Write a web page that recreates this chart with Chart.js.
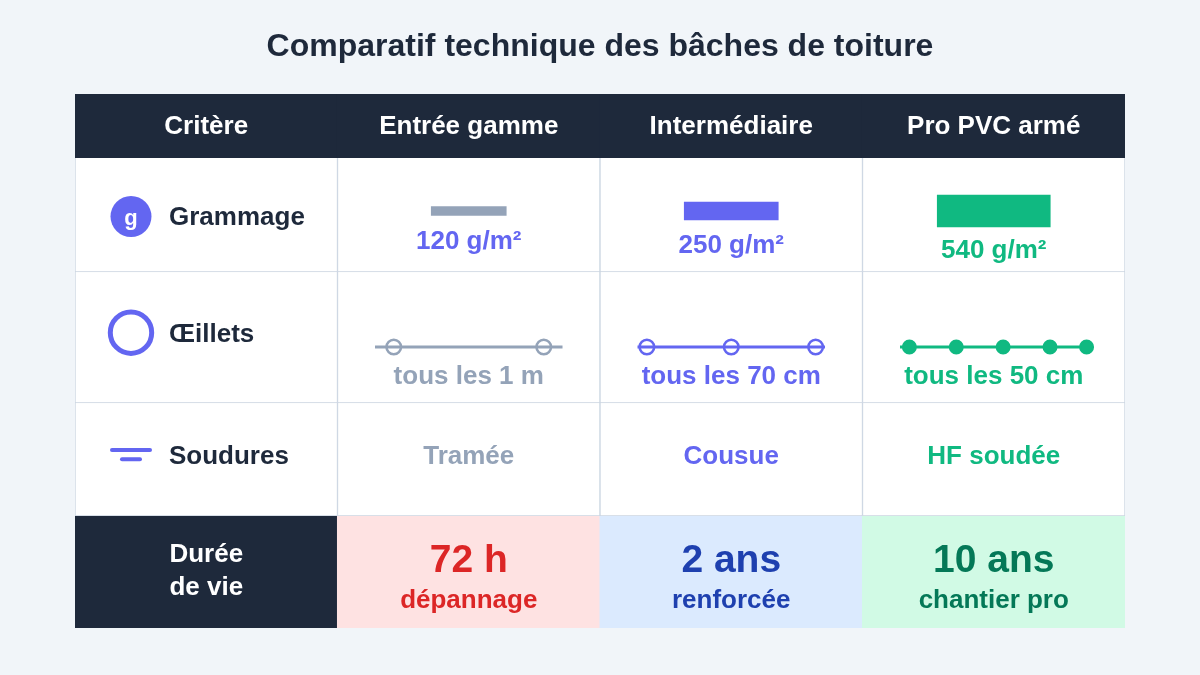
<!DOCTYPE html>
<html lang="fr">
<head>
<meta charset="utf-8">
<title>Comparatif technique des bâches de toiture</title>
<script src="https://cdn.jsdelivr.net/npm/chart.js@4"></script>
<style>
  html, body { margin: 0; padding: 0; background: #f1f5f9; }
  canvas { display: block; }
</style>
</head>
<body>
<canvas id="chart" width="1200" height="675"></canvas>
<script>
const title = 'Comparatif technique des bâches de toiture'
const columns = ['Critère', 'Entrée gamme', 'Intermédiaire', 'Pro PVC armé']
const criteria = ['Grammage', 'Œillets', 'Soudures']
const lifeLabel = ['Durée', 'de vie']

const grammage = [120, 250, 540]
const eyeletLabels = ['tous les 1 m', 'tous les 70 cm', 'tous les 50 cm']
// position des oeillets le long de la bande (0 = debut, 1 = fin)
const eyeletPositions = [
  [0.1, 0.9],
  [0.05, 0.5, 0.95],
  [0.05, 0.3, 0.55, 0.8, 0.995],
]
const weldTypes = ['Tramée', 'Cousue', 'HF soudée']
const lifeValues = ['72 h', '2 ans', '10 ans']
const lifeNotes = ['dépannage', 'renforcée', 'chantier pro']

// ----- Mise en page et couleurs -----
const navy = '#1e293b'
const line = '#cbd5e1'
const indigo = '#6366f1'
const tierColors = ['#94a3b8', indigo, '#10b981']
const gramLabelColors = [indigo, indigo, '#10b981']
const lifeFill = ['#fee2e2', '#dbeafe', '#d1fae5']
const lifeText = ['#dc2626', '#1e40af', '#047857']

const tableHeight = 534
const rowEdges = [0, 64, 178, 309, 422, 534]
const gramCenter = 117
const gramBarHeight = [9, 18, 32]
const gramBarWidth = [75, 94, 113]
const gramLabelBase = [154.5, 158.5, 163.5]
const stripY = 253
const stripInset = 0.1429
const stripSpan = 0.7143
const font = size => `bold ${size}px "Liberation Sans", Arial, sans-serif`

// ----- Cellules du tableau (barres flottantes) -----
const cellFill = row => {
  if (row === 0) return columns.map(() => navy)
  if (row === 4) return [navy, ...lifeFill]
  return columns.map(() => '#ffffff')
}
const cellBorder = row => {
  if (row === 0 || row === 4) return 0
  return row === 1 ? { top: 2, left: 1, right: 1, bottom: 1 } : 1
}
const cellDatasets = rowEdges.slice(0, -1).map((top, row) => ({
  type: 'bar',
  data: columns.map(() => [top, rowEdges[row + 1]]),
  backgroundColor: cellFill(row),
  borderColor: row === 0 || row === 4 ? 'rgba(0,0,0,0)' : line,
  borderWidth: cellBorder(row),
  barPercentage: row === 0 || row === 4 ? 1.004 : 1,
  categoryPercentage: 1,
  grouped: false,
  order: row === 0 || row === 4 ? 9 : 10,
}))

// ----- Barres de grammage -----
const gramDatasets = grammage.map((value, i) => ({
  type: 'bar',
  label: value + ' g/m²',
  data: columns.map((c, col) =>
    col === i + 1
      ? [gramCenter - gramBarHeight[i] / 2, gramCenter + gramBarHeight[i] / 2]
      : null
  ),
  backgroundColor: tierColors[i],
  barThickness: gramBarWidth[i],
  grouped: false,
  order: 5,
}))

// ----- Bandes avec oeillets -----
const stripX = (col, f) => col + stripInset + f * stripSpan
const stripDatasets = eyeletPositions.flatMap((positions, i) => [
  {
    type: 'line',
    xAxisID: 'xs',
    data: [0, 1].map(f => ({ x: stripX(i + 1, f), y: stripY })),
    borderColor: tierColors[i],
    borderWidth: 3,
    pointRadius: 0,
    order: 4,
  },
  {
    type: 'line',
    xAxisID: 'xs',
    showLine: false,
    data: positions.map(f => ({ x: stripX(i + 1, f), y: stripY })),
    pointRadius: i === 2 ? 6.5 : 7.3,
    pointBorderWidth: i === 2 ? 2 : 2.5,
    pointBorderColor: tierColors[i],
    pointBackgroundColor: i === 2 ? tierColors[i] : 'rgba(0,0,0,0)',
    order: 3,
  },
])

// ----- Icones de la premiere colonne -----
const iconX = 0.2133
const iconDatasets = [
  {
    type: 'line',
    xAxisID: 'xs',
    showLine: false,
    data: [{ x: iconX, y: 122.5 }],
    pointRadius: 20.5,
    pointBorderWidth: 0,
    pointBackgroundColor: indigo,
    order: 2,
  },
  {
    type: 'line',
    xAxisID: 'xs',
    showLine: false,
    data: [{ x: iconX, y: 238.7 }],
    pointRadius: 20.7,
    pointBorderWidth: 5,
    pointBorderColor: indigo,
    pointBackgroundColor: 'rgba(0,0,0,0)',
    order: 2,
  },
  {
    type: 'line',
    xAxisID: 'xs',
    data: [{ x: iconX - 0.0724, y: 356 }, { x: iconX + 0.0724, y: 356 }],
    borderColor: indigo,
    borderWidth: 4,
    borderCapStyle: 'round',
    pointRadius: 0,
    order: 2,
  },
  {
    type: 'line',
    xAxisID: 'xs',
    data: [{ x: iconX - 0.0343, y: 365.3 }, { x: iconX + 0.0343, y: 365.3 }],
    borderColor: indigo,
    borderWidth: 4,
    borderCapStyle: 'round',
    pointRadius: 0,
    order: 2,
  },
]

// ----- Textes du tableau -----
const tableText = {
  id: 'tableText',
  afterDatasetsDraw(chart) {
    const { ctx, scales } = chart
    const cx = i => scales.x.getPixelForValue(i)
    const py = v => scales.y.getPixelForValue(v)
    const put = (text, x, y, size, color, align = 'center') => {
      ctx.font = font(size)
      ctx.fillStyle = color
      ctx.textAlign = align
      ctx.textBaseline = 'alphabetic'
      ctx.fillText(text, x, py(y))
    }
    const labelX = scales.xs.getPixelForValue(0.3581)

    ctx.save()
    columns.forEach((c, i) => put(c, cx(i), 40, 26, '#ffffff'))

    const rowBase = [130.5, 248, 369.5]
    criteria.forEach((c, i) => put(c, labelX, rowBase[i], 26, navy, 'left'))
    put('g', scales.xs.getPixelForValue(iconX), 130.5, 22, '#ffffff')

    grammage.forEach((g, i) =>
      put(g + ' g/m²', cx(i + 1), gramLabelBase[i], 26, gramLabelColors[i])
    )
    eyeletLabels.forEach((t, i) => put(t, cx(i + 1), 290, 26, tierColors[i]))
    weldTypes.forEach((t, i) => put(t, cx(i + 1), 370, 26, tierColors[i]))

    put(lifeLabel[0], cx(0), 468, 26, '#ffffff')
    put(lifeLabel[1], cx(0), 501, 26, '#ffffff')
    lifeValues.forEach((t, i) => put(t, cx(i + 1), 478, 39, lifeText[i]))
    lifeNotes.forEach((t, i) => put(t, cx(i + 1), 514, 26, lifeText[i]))
    ctx.restore()
  },
}

new Chart(document.getElementById('chart'), {
  type: 'bar',
  data: {
    labels: columns,
    datasets: [...cellDatasets, ...gramDatasets, ...stripDatasets, ...iconDatasets],
  },
  options: {
    responsive: false,
    animation: false,
    devicePixelRatio: 1,
    layout: { padding: { left: 75, right: 75, top: 28, bottom: 47 } },
    scales: {
      x: { display: false },
      xs: { type: 'linear', display: false, offset: false, min: 0, max: 4 },
      y: { display: false, reverse: true, min: 0, max: tableHeight },
    },
    plugins: {
      legend: { display: false },
      tooltip: { enabled: false },
      title: {
        display: true,
        text: title,
        color: navy,
        font: { family: '"Liberation Sans", Arial, sans-serif', size: 32, weight: 'bold' },
        padding: { top: 0, bottom: 27.6 },
      },
    },
  },
  plugins: [tableText],
})
</script>
</body>
</html>
